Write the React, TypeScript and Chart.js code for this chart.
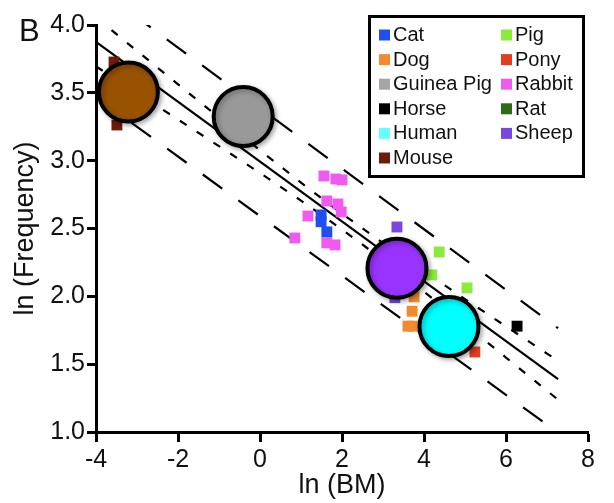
import React, { useEffect, useRef } from 'react';
import { Chart, registerables } from 'chart.js';

Chart.register(...registerables);

const FONT = "'Liberation Sans', Arial, Helvetica, sans-serif";

// ---- axis ticks ----
const xTicks = [-4, -2, 0, 2, 4, 6, 8];
const yTicks = [1.0, 1.5, 2.0, 2.5, 3.0, 3.5, 4.0];

// ---- species (legend order, column-major) ----
const speciesNames = ['Cat', 'Dog', 'Guinea Pig', 'Horse', 'Human', 'Mouse', 'Pig', 'Pony', 'Rabbit', 'Rat', 'Sheep'];

// individual observations: ln(body mass) and ln(frequency)
const catLnBM = [1.49, 1.49, 1.63];
const catLnF = [2.6, 2.55, 2.475];
const dogLnBM = [3.76, 3.71, 3.61, 3.73];
const dogLnF = [1.996, 1.89, 1.78, 1.78];
const guineaPigLnBM = [-0.5, -0.3];
const guineaPigLnF = [3.36, 3.3];
const horseLnBM = [6.27];
const horseLnF = [1.78];
const humanLnBM = [4.55, 4.68];
const humanLnF = [1.8, 1.76];
const mouseLnBM = [-3.56, -3.49, -3.45, -3.52];
const mouseLnF = [3.727, 3.263, 3.5, 3.4];
const pigLnBM = [4.37, 4.19, 5.05];
const pigLnF = [2.327, 2.158, 2.062];
const ponyLnBM = [5.24];
const ponyLnF = [1.59];
const rabbitLnBM = [1.56, 1.85, 2.0, 1.63, 1.9, 1.98, 1.17, 0.85, 1.63, 1.83];
const rabbitLnF = [2.887, 2.865, 2.858, 2.703, 2.681, 2.622, 2.592, 2.43, 2.394, 2.379];
const ratLnBM = [-0.38];
const ratLnF = [3.34];
const sheepLnBM = [3.34, 3.29];
const sheepLnF = [2.511, 1.99];

// species means (large circles)
const meanSpecies = ['Mouse', 'Guinea Pig', 'Sheep', 'Human'];
const meanLnBM = [-3.21, -0.41, 3.34, 4.61];
const meanLnF = [3.506, 3.326, 2.207, 1.778];

// regression line and bands
const fitLnBM = [-4, 7.27];
const fitLnF = [3.875, 1.389];
const bandLnBM = [-4, -3, -2, -1, 0, 1, 2, 3, 4, 5, 6, 7, 7.27];
const ciUpperLnF = [4.055, 3.809, 3.563, 3.317, 3.077, 2.838, 2.609, 2.393, 2.186, 1.979, 1.779, 1.578, 1.525];
const ciLowerLnF = [3.695, 3.499, 3.303, 3.107, 2.909, 2.706, 2.493, 2.269, 2.034, 1.792, 1.549, 1.304, 1.238];
const piUpperLnBM = [-4, 7.27];
const piUpperLnF = [4.28, 1.765];
const piLowerLnBM = [-4, 7.2];
const piLowerLnF = [3.47, 1.01];

// ---- styles ----
const speciesColors: Record<string, string> = {
  Cat: '#1F4FEF',
  Dog: '#F28A2E',
  'Guinea Pig': '#A5A5A5',
  Horse: '#000000',
  Human: '#66FFFF',
  Mouse: '#6E1A0C',
  Pig: '#8BEA3A',
  Pony: '#E23D22',
  Rabbit: '#EE5BEE',
  Rat: '#2E6B16',
  Sheep: '#7A46E0',
};
const meanColors: Record<string, string> = {
  Mouse: '#985200',
  'Guinea Pig': '#999999',
  Sheep: '#9933FF',
  Human: '#00FFFF',
};

const speciesSeries: Record<string, [number[], number[]]> = {
  Cat: [catLnBM, catLnF],
  Dog: [dogLnBM, dogLnF],
  'Guinea Pig': [guineaPigLnBM, guineaPigLnF],
  Horse: [horseLnBM, horseLnF],
  Human: [humanLnBM, humanLnF],
  Mouse: [mouseLnBM, mouseLnF],
  Pig: [pigLnBM, pigLnF],
  Pony: [ponyLnBM, ponyLnF],
  Rabbit: [rabbitLnBM, rabbitLnF],
  Rat: [ratLnBM, ratLnF],
  Sheep: [sheepLnBM, sheepLnF],
};

const toPts = (xs: number[], ys: number[]) => xs.map((x, i) => ({ x, y: ys[i] }));

const shadowPlugin = {
  id: 'circleShadow',
  beforeDatasetDraw(chart: any, args: any) {
    if (chart.data.datasets[args.index].label === 'means') {
      const ctx = chart.ctx;
      ctx.save();
      ctx.shadowColor = 'rgba(0,0,0,0.3)';
      ctx.shadowBlur = 5;
      ctx.shadowOffsetX = 2;
      ctx.shadowOffsetY = 2;
    }
  },
  afterDatasetDraw(chart: any, args: any) {
    if (chart.data.datasets[args.index].label === 'means') {
      chart.ctx.restore();
    }
  },
};

const legendPlugin = {
  id: 'boxLegend',
  afterDraw(chart: any) {
    const ctx = chart.ctx as CanvasRenderingContext2D;
    ctx.save();
    // panel letter
    ctx.fillStyle = '#111';
    ctx.font = `31px ${FONT}`;
    ctx.textBaseline = 'alphabetic';
    ctx.textAlign = 'left';
    ctx.fillText('B', 19, 41);

    // legend box
    const bx = 369.5, by = 16.5, bw = 214, bh = 160;
    ctx.fillStyle = '#fff';
    ctx.fillRect(bx, by, bw, bh);
    ctx.lineWidth = 3;
    ctx.strokeStyle = '#000';
    ctx.strokeRect(bx, by, bw, bh);

    ctx.font = `20px ${FONT}`;
    ctx.textBaseline = 'middle';
    const rows = 6;
    const rowY0 = 35;
    const rowStep = 24.6;
    const colX = [379, 501];
    speciesNames.forEach((name, i) => {
      const col = Math.floor(i / rows);
      const row = i % rows;
      const cy = rowY0 + row * rowStep;
      const sx = colX[col];
      ctx.fillStyle = speciesColors[name];
      ctx.fillRect(sx, cy - 5.5, 11, 11);
      ctx.fillStyle = '#111';
      ctx.fillText(name, sx + 14, cy + 0.5);
    });
    ctx.restore();
  },
};

export default function App() {
  const ref = useRef<HTMLCanvasElement>(null);

  useEffect(() => {
    const canvas = ref.current;
    if (!canvas) return;

    const lineBase = {
      type: 'scatter' as const,
      showLine: true,
      pointRadius: 0,
      pointHoverRadius: 0,
      borderColor: '#000',
      backgroundColor: '#000',
      borderWidth: 2.2,
      fill: false,
      order: 2,
    };

    const datasets: any[] = [
      {
        label: 'means',
        data: toPts(meanLnBM, meanLnF),
        pointStyle: 'circle',
        pointRadius: 29.5,
        pointHoverRadius: 29.5,
        pointBackgroundColor: meanSpecies.map((s) => meanColors[s]),
        pointBorderColor: '#000',
        pointBorderWidth: 4,
        clip: false,
        order: 0,
      },
      ...speciesNames.map((name) => ({
        label: name,
        data: toPts(speciesSeries[name][0], speciesSeries[name][1]),
        pointStyle: 'rect',
        pointRadius: 7.7,
        pointHoverRadius: 7.7,
        pointBackgroundColor: speciesColors[name],
        pointBorderWidth: 0,
        borderWidth: 0,
        order: 1,
      })),
      { ...lineBase, label: 'fit', data: toPts(fitLnBM, fitLnF) },
      { ...lineBase, label: 'ci upper', data: toPts(bandLnBM, ciUpperLnF), borderDash: [8, 12] },
      { ...lineBase, label: 'ci lower', data: toPts(bandLnBM, ciLowerLnF), borderDash: [8, 12] },
      { ...lineBase, label: 'pi upper', data: toPts(piUpperLnBM, piUpperLnF), borderDash: [24, 20] },
      { ...lineBase, label: 'pi lower', data: toPts(piLowerLnBM, piLowerLnF), borderDash: [24, 20] },
    ];

    const chart = new Chart(canvas, {
      type: 'scatter',
      data: { datasets },
      options: {
        responsive: false,
        animation: false,
        devicePixelRatio: 1,
        events: [],
        layout: { autoPadding: false, padding: { left: 0, right: 26, top: 25, bottom: 0 } },
        plugins: { legend: { display: false }, tooltip: { enabled: false } },
        scales: {
          x: {
            type: 'linear',
            min: -4,
            max: 8,
            afterBuildTicks: (s: any) => {
              s.ticks = xTicks.map((v) => ({ value: v }));
            },
            afterFit: (s: any) => {
              s.height = 71;
              s.paddingLeft = 0;
              s.paddingRight = 0;
            },
            ticks: {
              font: { family: FONT, size: 25 },
              color: '#111',
              padding: 3,
              maxRotation: 0,
              autoSkip: false,
              callback: (v: any) => String(v),
            },
            grid: {
              display: true,
              drawOnChartArea: false,
              drawTicks: true,
              tickLength: 10,
              tickWidth: 3,
              tickColor: '#000',
            },
            border: { display: true, color: '#000', width: 3 },
            title: {
              display: true,
              text: 'ln (BM)',
              font: { family: FONT, size: 27 },
              color: '#111',
              padding: { top: 0, bottom: 1 },
            },
          },
          y: {
            type: 'linear',
            min: 1,
            max: 4,
            afterBuildTicks: (s: any) => {
              s.ticks = yTicks.map((v) => ({ value: v }));
            },
            afterFit: (s: any) => {
              s.width = 96;
              s.paddingTop = 0;
              s.paddingBottom = 0;
            },
            ticks: {
              font: { family: FONT, size: 25 },
              color: '#111',
              padding: 2,
              autoSkip: false,
              callback: (v: any) => Number(v).toFixed(1),
            },
            grid: {
              display: true,
              drawOnChartArea: false,
              drawTicks: true,
              tickLength: 9,
              tickWidth: 3,
              tickColor: '#000',
            },
            border: { display: true, color: '#000', width: 3 },
            title: {
              display: true,
              text: 'ln (Frequency)',
              font: { family: FONT, size: 27 },
              color: '#111',
              padding: { top: 9, bottom: 0 },
            },
          },
        },
      },
      plugins: [shadowPlugin, legendPlugin],
    } as any);

    return () => chart.destroy();
  }, []);

  return (
    <div style={{ position: 'absolute', left: 0, top: 0, width: 614, height: 503, background: '#fff' }}>
      <canvas ref={ref} width={614} height={503} style={{ display: 'block', width: 614, height: 503 }} />
    </div>
  );
}
